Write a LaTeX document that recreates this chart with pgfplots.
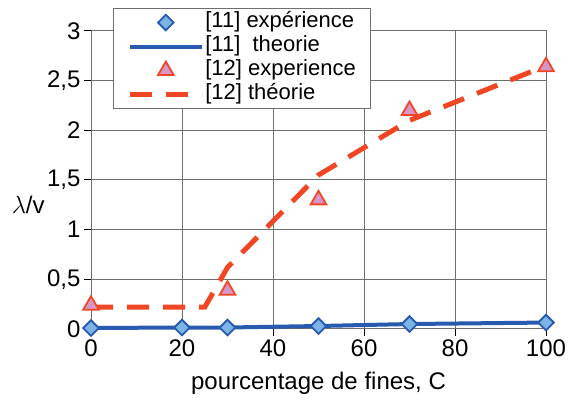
\documentclass[border=0pt]{standalone}
\usepackage{fontspec}
\setmainfont{Liberation Sans}
\usepackage{pgfplots}
\pgfplotsset{compat=1.18}

\definecolor{bline}{RGB}{40,90,175}
\definecolor{bfill}{RGB}{125,180,230}
\definecolor{rline}{RGB}{240,70,35}
\definecolor{rfill}{RGB}{215,150,200}
\definecolor{gridc}{RGB}{110,110,110}

\begin{document}
\begin{tikzpicture}
\useasboundingbox (0,0) rectangle (572pt,401pt);
\begin{axis}[
    at={(91pt,72pt)}, anchor=south west,
    scale only axis, width=455pt, height=298pt,
    xmin=0, xmax=100, ymin=0, ymax=3,
    xtick={0,20,...,100}, ytick={0,0.5,...,3},
    yticklabels={0,{0,5},1,{1,5},2,{2,5},3},
    /pgf/number format/assume math mode=true,
    tick label style={font=\fontsize{24}{24}\selectfont},
    grid=major, grid style={gridc, line width=1pt},
    axis line style={gridc, line width=1pt},
    tick style={black, line width=1pt},
    tick align=outside, major tick length=7pt,
    xtick pos=bottom, ytick pos=left,
    xlabel={pourcentage de fines, C},
    xlabel style={font=\fontsize{24}{24}\selectfont, at={(axis description cs:0.5,-0.181)}, anchor=center},
    ylabel={$\lambda$/v},
    ylabel style={font=\fontsize{24}{24}\selectfont, rotate=-90, at={(axis description cs:-0.138,0.416)}, anchor=center},
    legend style={at={(0.048,1.077)}, anchor=north west, draw=gridc, line width=1pt,
        font=\fontsize{22}{22}\selectfont, fill=white,
        nodes={inner sep=1pt, text height=16pt, text depth=6pt},
        inner xsep=14pt, inner ysep=2pt},
    legend cell align=left,
    legend image code/.code={\node[shape=coordinate] at (0pt,0pt) {};
        \draw[mark repeat=2,mark phase=2] plot coordinates {(6pt,0pt) (42pt,0pt) (78pt,0pt)};},
    clip=false,
]
\addplot[only marks, mark=square*, mark size=5.5pt, mark options={rotate=45, fill=bfill, draw=bline, line width=1.8pt}]
  coordinates {(0,0.01) (20,0.015) (30,0.015) (50,0.03) (70,0.05) (100,0.065)};
\addlegendentry{[11] expérience}
\addplot[bline, line width=4pt]
  coordinates {(0,0.01) (20,0.015) (30,0.015) (50,0.03) (70,0.05) (100,0.065)};
\addlegendentry{[11]\ \ theorie}
\addplot[only marks, mark=triangle*, mark size=9pt, mark options={fill=rfill, draw=rline, line width=1.8pt}]
  coordinates {(0,0.24) (30,0.39) (50,1.3) (70,2.2) (100,2.64)};
\addlegendentry{[12] experience}
\addplot[rline, line width=5pt, dash pattern=on 22pt off 14pt]
  coordinates {(0,0.22) (25,0.22) (30,0.62) (50,1.55) (70,2.1) (100,2.65)};
\addlegendentry{[12] théorie}
\end{axis}
\end{tikzpicture}
\end{document}
